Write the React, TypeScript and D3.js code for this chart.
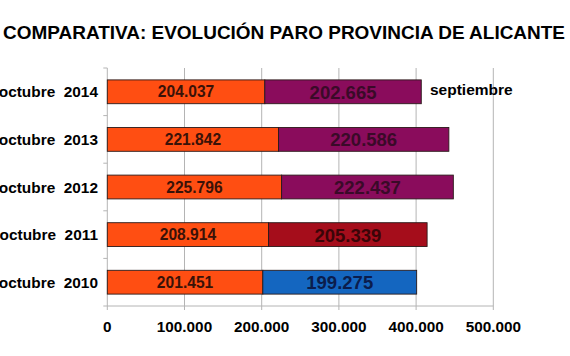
import React from "react";
import * as d3 from "d3";

const categories = ["octubre  2014", "octubre  2013", "octubre  2012", "octubre  2011", "octubre  2010"];
const octubreValues = [204037, 221842, 225796, 208914, 201451];
const otherValues = [202665, 220586, 222437, 205339, 199275];
const xTicks = [0, 100000, 200000, 300000, 400000, 500000];
const title = "COMPARATIVA: EVOLUCIÓN PARO PROVINCIA DE ALICANTE";
const noteLabel = "septiembre";

const W = 570;
const H = 356;
const otherFill = ["#8a0c5c", "#8a0c5c", "#8a0c5c", "#a50d1b", "#1466c0"];
const otherText = ["#3a0a28", "#3a0a28", "#3a0a28", "#3a0508", "#0b1d4d"];
const font = "'Liberation Sans', Arial, sans-serif";

const fmt = d3.formatLocale({ decimal: ",", thousands: ".", grouping: [3], currency: ["", ""] }).format(",d");

export default function App() {
  const x = d3.scaleLinear().domain([0, 500000]).range([107.3, 493.3]);
  const y = d3.scaleBand<string>().domain(categories).range([68, 306]).paddingInner(0.5).paddingOuter(0.25);
  const step = y.step();
  const top = 68, bottom = 306;
  return (
    <svg width={W} height={H} style={{ position: "absolute", left: 0, top: 0, background: "#fff" }} fontFamily={font}>
      <rect x={0} y={0} width={W} height={H} fill="#fff" />
      <text x={3} y={39} fontSize={19} fontWeight="bold" fill="#000" textLength={562} lengthAdjust="spacingAndGlyphs">{title}</text>
      {xTicks.map((t, i) => (
        <line key={"g" + i} x1={x(t)} x2={x(t)} y1={top} y2={bottom + 4} stroke="#b4b4b4" strokeWidth={1} />
      ))}
      <line x1={x(0)} x2={x(500000)} y1={bottom} y2={bottom} stroke="#b4b4b4" />
      {d3.range(categories.length + 1).map((i) => (
        <line key={"t" + i} x1={x(0) - 4} x2={x(0)} y1={top + i * step} y2={top + i * step} stroke="#b4b4b4" />
      ))}
      {categories.map((c, i) => {
        const y0 = y(c)!;
        const bw = y.bandwidth();
        const a = octubreValues[i];
        const b = otherValues[i];
        return (
          <g key={c}>
            <rect x={x(0)} y={y0} width={x(a) - x(0)} height={bw} fill="#ff4e12" stroke="#2a1a1a" strokeWidth={0.9} />
            <rect x={x(a)} y={y0} width={x(a + b) - x(a)} height={bw} fill={otherFill[i]} stroke="#2a1a1a" strokeWidth={0.9} />
            <text x={(x(0) + x(a)) / 2} y={y0 + bw / 2} dy="0.36em" textAnchor="middle" fontSize={15.6} fontWeight="bold" fill="#3a1208">{fmt(a)}</text>
            <text x={(x(a) + x(a + b)) / 2} y={y0 + bw / 2} dy="0.38em" textAnchor="middle" fontSize={18.5} fontWeight="bold" fill={otherText[i]}>{fmt(b)}</text>
            <text x={98} y={y0 + bw / 2} dy="0.36em" textAnchor="end" fontSize={15.4} fontWeight="bold" fill="#000" style={{ whiteSpace: "pre" }}>{c}</text>
          </g>
        );
      })}
      <text x={430} y={89} dy="0.36em" fontSize={15.5} fontWeight="bold" fill="#000">{noteLabel}</text>
      {xTicks.map((t, i) => (
        <text key={"l" + i} x={x(t)} y={326} dy="0.36em" textAnchor="middle" fontSize={15.3} fontWeight="bold" fill="#000">{fmt(t)}</text>
      ))}
    </svg>
  );
}
